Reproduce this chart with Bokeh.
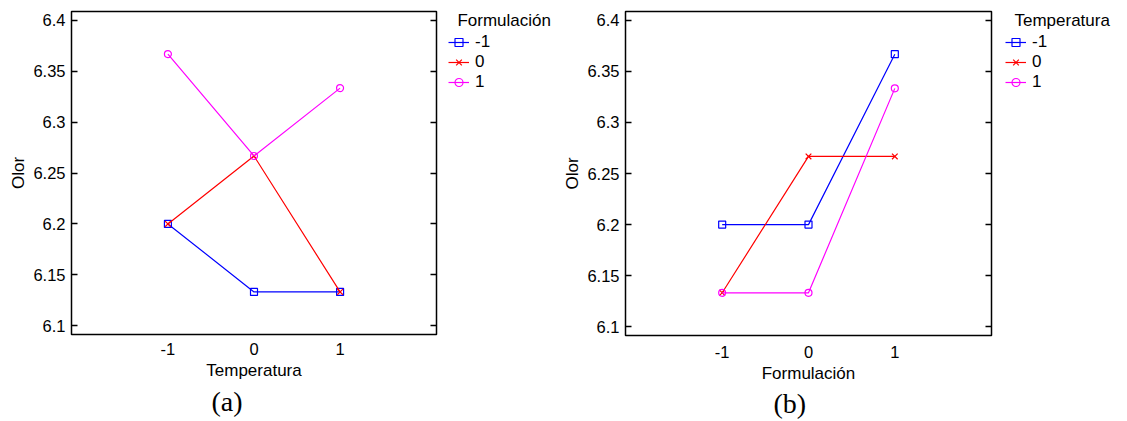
from bokeh.plotting import figure
from bokeh.models import (LinearAxis, FixedTicker, Legend, LegendItem, Title, Range1d)
from bokeh.layouts import row
from bokeh.embed import file_html
from bokeh.resources import INLINE

# ---- data (Olor means by Formulación x Temperatura) ----
levels = [-1, 0, 1]
level_labels = ["-1", "0", "1"]
# Olor for each Formulación level, over Temperatura = -1, 0, 1
olor_form_m1 = [6.2, 6.1333, 6.1333]
olor_form_0 = [6.2, 6.2667, 6.1333]
olor_form_1 = [6.3667, 6.2667, 6.3333]
y_ticks = [6.1, 6.15, 6.2, 6.25, 6.3, 6.35, 6.4]
y_tick_labels = ["6.1", "6.15", "6.2", "6.25", "6.3", "6.35", "6.4"]

# panel (b): same table seen by Temperatura over Formulación
table = [olor_form_m1, olor_form_0, olor_form_1]
olor_temp = [[table[f][t] for f in range(3)] for t in range(3)]

colors = ["#0000ff", "#ff0000", "#ff00ff"]
markers = ["square", "x", "circle"]
marker_sizes = [7, 8, 7]
SANS = "Liberation Sans"
SERIF = "Liberation Serif"
NB = "\u00a0\u00a0"
H = 419


def add_series(p, series):
    out = []
    for vals, col, mk, ms in zip(series, colors, markers, marker_sizes):
        r1 = p.line(levels, vals, line_color=col, line_width=1.2)
        r2 = p.scatter(levels, vals, marker=mk, size=ms, line_color=col,
                       fill_color=None, line_width=1.2)
        out.append([r1, r2])
    return out


def build(x_label, series, tag, fw, fh, bl, bt, br, bb,
          tick_standoff, label_standoff, tag_offset, tag_standoff):
    p = figure(frame_width=fw, frame_height=fh,
               min_border_left=bl, min_border_top=bt,
               min_border_right=br, min_border_bottom=bb,
               x_range=Range1d(-2.12, 2.12), y_range=Range1d(6.0915, 6.4085),
               output_backend="svg", toolbar_location=None, tools="")
    p.xgrid.visible = False
    p.ygrid.visible = False
    p.outline_line_color = "black"
    p.outline_line_width = 1.5
    p.border_fill_color = "white"

    xa = p.xaxis[0]
    xa.ticker = FixedTicker(ticks=levels)
    xa.major_label_overrides = dict(zip(levels, level_labels))
    xa.major_tick_in = 0
    xa.major_tick_out = 0
    xa.minor_tick_line_color = None
    xa.axis_line_color = None
    xa.major_label_standoff = tick_standoff
    xa.major_label_text_font = SANS
    xa.major_label_text_font_size = "16.5px"
    xa.major_label_text_color = "black"
    xa.axis_label = x_label
    xa.axis_label_text_font = SANS
    xa.axis_label_text_font_size = "17px"
    xa.axis_label_text_font_style = "normal"
    xa.axis_label_text_color = "black"
    xa.axis_label_standoff = label_standoff

    ya = p.yaxis[0]
    ya.ticker = FixedTicker(ticks=y_ticks)
    ya.major_label_overrides = dict(zip(y_ticks, y_tick_labels))
    ya.major_tick_in = 6
    ya.major_tick_out = 0
    ya.major_tick_line_width = 1.5
    ya.minor_tick_line_color = None
    ya.axis_line_color = None
    ya.major_label_standoff = 6
    ya.major_label_text_font = SANS
    ya.major_label_text_font_size = "16.5px"
    ya.major_label_text_color = "black"
    ya.axis_label = "Olor"
    ya.axis_label_text_font = SANS
    ya.axis_label_text_font_size = "17px"
    ya.axis_label_text_font_style = "normal"
    ya.axis_label_text_color = "black"
    ya.axis_label_standoff = 2

    # right-side inward ticks (labels hidden)
    ra = LinearAxis(ticker=FixedTicker(ticks=y_ticks))
    ra.major_tick_in = 6
    ra.major_tick_out = 0
    ra.major_tick_line_width = 1.5
    ra.minor_tick_line_color = None
    ra.axis_line_color = None
    ra.major_label_text_color = None
    ra.major_label_text_font_size = "1px"
    ra.major_label_standoff = 0
    p.add_layout(ra, "right")

    add_series(p, series)

    t = Title(text=tag, align="left", offset=tag_offset, text_font=SERIF,
              text_font_size="28px", text_font_style="normal",
              text_color="black", standoff=tag_standoff)
    p.add_layout(t, "below")
    return p


def legend_fig(width, left, top, title, series):
    # separate figure holding only the legend; its copies of the series lie
    # outside its ranges, so only the legend entries are visible
    lf = figure(width=width, height=H, min_border_left=left, min_border_top=top,
                min_border_right=0, min_border_bottom=0,
                x_range=Range1d(20, 21), y_range=Range1d(20, 21),
                x_axis_location=None, y_axis_location=None,
                output_backend="svg", toolbar_location=None, tools="")
    lf.grid.visible = False
    lf.outline_line_color = None
    rends = add_series(lf, series)
    items = [LegendItem(label=lab, renderers=rs) for lab, rs in zip(level_labels, rends)]
    legend = Legend(items=items, title=NB + title, location="top_left",
                    border_line_color=None, background_fill_alpha=0,
                    padding=0, margin=0, spacing=0,
                    glyph_width=21, glyph_height=20, label_standoff=6,
                    label_text_font=SANS, label_text_font_size="17px",
                    label_text_color="black",
                    title_text_font=SANS, title_text_font_size="17px",
                    title_text_font_style="normal", title_text_color="black",
                    title_standoff=1)
    lf.add_layout(legend)
    return lf


pa = build("Temperatura", table, "(a)",
           fw=365, fh=323, bl=71, bt=8, br=6, bb=H - 8 - 323,
           tick_standoff=8, label_standoff=3, tag_offset=140, tag_standoff=3)
la = legend_fig(118, 6, 7, "Formulación", table)
pb = build("Formulación", olor_temp, "(b)",
           fw=366, fh=324, bl=63, bt=11, br=6, bb=H - 11 - 324,
           tick_standoff=10, label_standoff=3, tag_offset=148, tag_standoff=0)
lb = legend_fig(124, 8, 10, "Temperatura", olor_temp)

layout = row(pa, la, pb, lb)
open("out.html", "w").write(file_html(layout, INLINE))
